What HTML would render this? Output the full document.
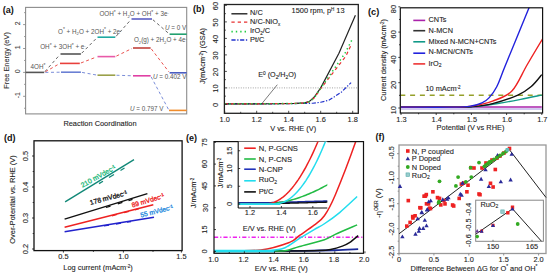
<!DOCTYPE html>
<html><head><meta charset="utf-8"><style>
html,body{margin:0;padding:0;background:#fff;width:550px;height:274px;overflow:hidden}
svg{display:block}
text{font-family:"Liberation Sans", sans-serif}
</style></head><body>
<svg width="550" height="274" viewBox="0 0 550 274" font-family='"Liberation Sans", sans-serif'>
<rect width="550" height="274" fill="#fff"/>
<rect x="25.60" y="7.40" width="161.10" height="106.50" stroke="#8c8c8c" stroke-width="1.1" fill="none"/>
<line x1="23.10" y1="24.60" x2="25.60" y2="24.60" stroke="#8c8c8c" stroke-width="0.9" stroke-linecap="butt"/>
<line x1="23.10" y1="48.50" x2="25.60" y2="48.50" stroke="#8c8c8c" stroke-width="0.9" stroke-linecap="butt"/>
<line x1="23.10" y1="72.40" x2="25.60" y2="72.40" stroke="#8c8c8c" stroke-width="0.9" stroke-linecap="butt"/>
<line x1="23.10" y1="96.30" x2="25.60" y2="96.30" stroke="#8c8c8c" stroke-width="0.9" stroke-linecap="butt"/>
<line x1="24.10" y1="12.65" x2="25.60" y2="12.65" stroke="#8c8c8c" stroke-width="0.9" stroke-linecap="butt"/>
<line x1="24.10" y1="36.55" x2="25.60" y2="36.55" stroke="#8c8c8c" stroke-width="0.9" stroke-linecap="butt"/>
<line x1="24.10" y1="60.45" x2="25.60" y2="60.45" stroke="#8c8c8c" stroke-width="0.9" stroke-linecap="butt"/>
<line x1="24.10" y1="84.35" x2="25.60" y2="84.35" stroke="#8c8c8c" stroke-width="0.9" stroke-linecap="butt"/>
<line x1="24.10" y1="108.25" x2="25.60" y2="108.25" stroke="#8c8c8c" stroke-width="0.9" stroke-linecap="butt"/>
<text x="20.40" y="23.40" font-size="7.0" fill="#444" stroke="#444" stroke-width="0.1" text-anchor="middle" font-weight="normal" transform="rotate(-90 20.40 23.40)" style="">2</text>
<text x="20.40" y="47.30" font-size="7.0" fill="#444" stroke="#444" stroke-width="0.1" text-anchor="middle" font-weight="normal" transform="rotate(-90 20.40 47.30)" style="">1</text>
<text x="20.40" y="71.20" font-size="7.0" fill="#444" stroke="#444" stroke-width="0.1" text-anchor="middle" font-weight="normal" transform="rotate(-90 20.40 71.20)" style="">0</text>
<text x="20.40" y="95.10" font-size="7.0" fill="#444" stroke="#444" stroke-width="0.1" text-anchor="middle" font-weight="normal" transform="rotate(-90 20.40 95.10)" style="">-1</text>
<text x="9.30" y="60.50" font-size="7.4" fill="#333" stroke="#333" stroke-width="0.1" text-anchor="middle" font-weight="normal" transform="rotate(-90 9.30 60.50)" style="">Free Energy (eV)</text>
<text x="100.00" y="125.90" font-size="7.4" fill="#222" stroke="#222" stroke-width="0.1" text-anchor="middle" font-weight="normal" style="">Reaction Coordination</text>
<text x="2.80" y="12.60" font-size="9" fill="#111" text-anchor="start" font-weight="bold" style="">(a)</text>
<line x1="25.60" y1="72.40" x2="44.20" y2="72.40" stroke="#555555" stroke-width="1.6" stroke-linecap="butt"/>
<line x1="60.50" y1="54.00" x2="80.90" y2="54.00" stroke="#555555" stroke-width="1.6" stroke-linecap="butt"/>
<line x1="60.00" y1="63.40" x2="79.80" y2="63.40" stroke="#e8403c" stroke-width="1.6" stroke-linecap="butt"/>
<line x1="61.00" y1="72.20" x2="80.90" y2="72.20" stroke="#6b80d4" stroke-width="1.6" stroke-linecap="butt"/>
<line x1="97.50" y1="37.20" x2="115.30" y2="37.20" stroke="#1fa9a2" stroke-width="1.6" stroke-linecap="butt"/>
<line x1="97.50" y1="56.60" x2="115.30" y2="56.60" stroke="#e85aa8" stroke-width="1.6" stroke-linecap="butt"/>
<line x1="97.50" y1="75.20" x2="115.30" y2="75.20" stroke="#9aa04a" stroke-width="1.6" stroke-linecap="butt"/>
<line x1="131.50" y1="19.00" x2="152.00" y2="19.00" stroke="#5a5ec4" stroke-width="1.6" stroke-linecap="butt"/>
<line x1="133.00" y1="48.00" x2="150.60" y2="48.00" stroke="#c0403a" stroke-width="1.6" stroke-linecap="butt"/>
<line x1="133.00" y1="75.80" x2="150.60" y2="75.80" stroke="#e040a4" stroke-width="1.6" stroke-linecap="butt"/>
<line x1="169.60" y1="34.20" x2="186.70" y2="34.20" stroke="#22a070" stroke-width="1.6" stroke-linecap="butt"/>
<line x1="169.60" y1="72.80" x2="186.70" y2="72.80" stroke="#4a5cc0" stroke-width="1.6" stroke-linecap="butt"/>
<line x1="169.00" y1="110.40" x2="186.70" y2="110.40" stroke="#f08c2c" stroke-width="1.6" stroke-linecap="butt"/>
<line x1="45.00" y1="71.50" x2="59.70" y2="54.90" stroke="#555" stroke-width="0.9" stroke-dasharray="3,2.6" stroke-linecap="butt"/>
<line x1="81.74" y1="53.15" x2="96.66" y2="38.05" stroke="#555" stroke-width="0.9" stroke-dasharray="3,2.6" stroke-linecap="butt"/>
<line x1="116.10" y1="36.30" x2="130.70" y2="19.90" stroke="#555" stroke-width="0.9" stroke-dasharray="3,2.6" stroke-linecap="butt"/>
<line x1="152.91" y1="19.78" x2="168.69" y2="33.42" stroke="#555" stroke-width="0.9" stroke-dasharray="3,2.6" stroke-linecap="butt"/>
<line x1="45.24" y1="71.81" x2="58.96" y2="63.99" stroke="#e8403c" stroke-width="0.9" stroke-dasharray="3,2.6" stroke-linecap="butt"/>
<line x1="80.92" y1="62.97" x2="96.38" y2="57.03" stroke="#e8403c" stroke-width="0.9" stroke-dasharray="3,2.6" stroke-linecap="butt"/>
<line x1="116.38" y1="56.08" x2="131.92" y2="48.52" stroke="#e8403c" stroke-width="0.9" stroke-dasharray="3,2.6" stroke-linecap="butt"/>
<line x1="151.33" y1="48.95" x2="168.87" y2="71.85" stroke="#e8403c" stroke-width="0.9" stroke-dasharray="3,2.6" stroke-linecap="butt"/>
<line x1="45.40" y1="72.39" x2="59.80" y2="72.21" stroke="#6b80d4" stroke-width="0.9" stroke-dasharray="3,2.6" stroke-linecap="butt"/>
<line x1="82.08" y1="72.41" x2="96.32" y2="74.99" stroke="#6b80d4" stroke-width="0.9" stroke-dasharray="3,2.6" stroke-linecap="butt"/>
<line x1="116.50" y1="75.24" x2="131.80" y2="75.76" stroke="#6b80d4" stroke-width="0.9" stroke-dasharray="3,2.6" stroke-linecap="butt"/>
<line x1="151.16" y1="76.86" x2="168.44" y2="109.34" stroke="#6b80d4" stroke-width="0.9" stroke-dasharray="3,2.6" stroke-linecap="butt"/>
<text x="30.60" y="69.00" font-size="6.3" fill="#555" text-anchor="start" font-weight="normal" style="">4OH<tspan dy="-2.2" font-size="5">*</tspan></text>
<text x="40.20" y="48.90" font-size="6.3" fill="#555" text-anchor="start" font-weight="normal" style="">OH<tspan dy="-2.2" font-size="5">*</tspan><tspan dy="2.2"> + 3OH</tspan><tspan dy="-2.2" font-size="5">*</tspan><tspan dy="2.2"> + e</tspan><tspan dy="-2" font-size="4.2">-</tspan></text>
<text x="58.00" y="33.60" font-size="6.3" fill="#555" text-anchor="start" font-weight="normal" style="">O<tspan dy="-2.2" font-size="5">*</tspan><tspan dy="2.2"> + H</tspan><tspan dy="1.6" font-size="4.2">2</tspan><tspan dy="-1.6">O + 2OH</tspan><tspan dy="-2.2" font-size="5">*</tspan><tspan dy="2.2"> + 2e</tspan><tspan dy="-2" font-size="4.2">-</tspan></text>
<text x="99.40" y="16.10" font-size="6.3" fill="#555" text-anchor="start" font-weight="normal" style="">OOH<tspan dy="-2.2" font-size="5">*</tspan><tspan dy="2.2"> + H</tspan><tspan dy="1.6" font-size="4.2">2</tspan><tspan dy="-1.6">O + OH</tspan><tspan dy="-2.2" font-size="5">*</tspan><tspan dy="2.2"> + 3e</tspan><tspan dy="-2" font-size="4.2">-</tspan></text>
<text x="165.00" y="29.90" font-size="6.3" fill="#555" text-anchor="start" font-weight="normal" style=""><tspan font-style="italic">U</tspan> = 0 V</text>
<text x="133.90" y="42.40" font-size="6.3" fill="#555" text-anchor="start" font-weight="normal" style="">O<tspan dy="1.6" font-size="4.2">2</tspan><tspan dy="-1.6">(g) + 2H</tspan><tspan dy="1.6" font-size="4.2">2</tspan><tspan dy="-1.6">O + 4e</tspan><tspan dy="-2" font-size="4.2">-</tspan></text>
<text x="152.90" y="78.70" font-size="6.3" fill="#555" text-anchor="start" font-weight="normal" style=""><tspan font-style="italic">U</tspan> = 0.402 V</text>
<text x="130.00" y="111.00" font-size="6.3" fill="#555" text-anchor="start" font-weight="normal" style=""><tspan font-style="italic">U</tspan> = 0.797 V</text>
<line x1="226.40" y1="87.90" x2="357.30" y2="87.90" stroke="#999" stroke-width="0.9" stroke-dasharray="1,1.4" stroke-linecap="butt"/>
<polyline points="224.70,103.91 256.70,103.91 280.70,103.74 312.70,103.25 320.70,102.26 328.70,100.28 333.98,96.98 341.50,92.03 351.10,82.62" fill="none" stroke="#2233cc" stroke-width="1.2" stroke-dasharray="4.2,1.6,1.3,1.6" stroke-linejoin="round"/>
<polyline points="224.70,103.91 272.70,103.74 296.70,103.41 304.70,102.92 309.50,101.43 314.30,96.98 320.70,87.90 338.94,53.25 355.42,15.30" fill="none" stroke="#222" stroke-width="1.2" stroke-linejoin="round"/>
<polyline points="224.70,103.91 272.70,103.74 296.70,103.41 304.70,102.92 309.50,101.76 314.30,97.80 320.70,88.73 345.98,56.06 351.10,44.84" fill="none" stroke="#e83030" stroke-width="1.2" stroke-dasharray="3.3,3" stroke-linejoin="round"/>
<polyline points="224.70,103.91 272.70,103.74 296.70,103.41 304.70,102.92 309.50,101.76 314.30,97.80 320.70,88.23 345.02,53.25 352.70,38.40" fill="none" stroke="#22cc44" stroke-width="1.5" stroke-dasharray="1.4,3" stroke-linejoin="round"/>
<line x1="277.30" y1="84.70" x2="261.90" y2="103.60" stroke="#222" stroke-width="0.6" stroke-linecap="butt"/>
<text x="258.20" y="77.20" font-size="7.2" fill="#222" stroke="#222" stroke-width="0.1" text-anchor="start" font-weight="normal" style="">E<tspan dy="-2.3" font-size="4.8">0</tspan><tspan dy="2.3"> (O</tspan><tspan dy="1.7" font-size="4.8">2</tspan><tspan dy="-1.7">/H</tspan><tspan dy="1.7" font-size="4.8">2</tspan><tspan dy="-1.7">O)</tspan></text>
<rect x="224.40" y="4.50" width="133.90" height="108.80" stroke="#222" stroke-width="1.3" fill="none"/>
<line x1="224.70" y1="113.30" x2="224.70" y2="110.80" stroke="#222" stroke-width="0.8" stroke-linecap="butt"/>
<text x="224.70" y="121.90" font-size="7.4" fill="#222" stroke="#222" stroke-width="0.1" text-anchor="middle" font-weight="normal" style="">1.0</text>
<line x1="256.70" y1="113.30" x2="256.70" y2="110.80" stroke="#222" stroke-width="0.8" stroke-linecap="butt"/>
<text x="256.70" y="121.90" font-size="7.4" fill="#222" stroke="#222" stroke-width="0.1" text-anchor="middle" font-weight="normal" style="">1.2</text>
<line x1="288.70" y1="113.30" x2="288.70" y2="110.80" stroke="#222" stroke-width="0.8" stroke-linecap="butt"/>
<text x="288.70" y="121.90" font-size="7.4" fill="#222" stroke="#222" stroke-width="0.1" text-anchor="middle" font-weight="normal" style="">1.4</text>
<line x1="320.70" y1="113.30" x2="320.70" y2="110.80" stroke="#222" stroke-width="0.8" stroke-linecap="butt"/>
<text x="320.70" y="121.90" font-size="7.4" fill="#222" stroke="#222" stroke-width="0.1" text-anchor="middle" font-weight="normal" style="">1.6</text>
<line x1="352.70" y1="113.30" x2="352.70" y2="110.80" stroke="#222" stroke-width="0.8" stroke-linecap="butt"/>
<text x="352.70" y="121.90" font-size="7.4" fill="#222" stroke="#222" stroke-width="0.1" text-anchor="middle" font-weight="normal" style="">1.8</text>
<line x1="240.70" y1="113.30" x2="240.70" y2="111.80" stroke="#222" stroke-width="0.8" stroke-linecap="butt"/>
<line x1="272.70" y1="113.30" x2="272.70" y2="111.80" stroke="#222" stroke-width="0.8" stroke-linecap="butt"/>
<line x1="304.70" y1="113.30" x2="304.70" y2="111.80" stroke="#222" stroke-width="0.8" stroke-linecap="butt"/>
<line x1="336.70" y1="113.30" x2="336.70" y2="111.80" stroke="#222" stroke-width="0.8" stroke-linecap="butt"/>
<line x1="224.40" y1="96.15" x2="225.90" y2="96.15" stroke="#222" stroke-width="0.8" stroke-linecap="butt"/>
<line x1="224.40" y1="79.65" x2="225.90" y2="79.65" stroke="#222" stroke-width="0.8" stroke-linecap="butt"/>
<line x1="224.40" y1="63.15" x2="225.90" y2="63.15" stroke="#222" stroke-width="0.8" stroke-linecap="butt"/>
<line x1="224.40" y1="46.65" x2="225.90" y2="46.65" stroke="#222" stroke-width="0.8" stroke-linecap="butt"/>
<line x1="224.40" y1="30.15" x2="225.90" y2="30.15" stroke="#222" stroke-width="0.8" stroke-linecap="butt"/>
<line x1="224.40" y1="13.65" x2="225.90" y2="13.65" stroke="#222" stroke-width="0.8" stroke-linecap="butt"/>
<line x1="224.40" y1="104.40" x2="226.90" y2="104.40" stroke="#222" stroke-width="0.8" stroke-linecap="butt"/>
<text x="218.00" y="105.00" font-size="7.4" fill="#222" stroke="#222" stroke-width="0.1" text-anchor="middle" font-weight="normal" transform="rotate(-90 218.00 105.00)" style="">0</text>
<line x1="224.40" y1="87.90" x2="226.90" y2="87.90" stroke="#222" stroke-width="0.8" stroke-linecap="butt"/>
<text x="218.00" y="88.50" font-size="7.4" fill="#222" stroke="#222" stroke-width="0.1" text-anchor="middle" font-weight="normal" transform="rotate(-90 218.00 88.50)" style="">10</text>
<line x1="224.40" y1="71.40" x2="226.90" y2="71.40" stroke="#222" stroke-width="0.8" stroke-linecap="butt"/>
<text x="218.00" y="72.00" font-size="7.4" fill="#222" stroke="#222" stroke-width="0.1" text-anchor="middle" font-weight="normal" transform="rotate(-90 218.00 72.00)" style="">20</text>
<line x1="224.40" y1="54.90" x2="226.90" y2="54.90" stroke="#222" stroke-width="0.8" stroke-linecap="butt"/>
<text x="218.00" y="55.50" font-size="7.4" fill="#222" stroke="#222" stroke-width="0.1" text-anchor="middle" font-weight="normal" transform="rotate(-90 218.00 55.50)" style="">30</text>
<line x1="224.40" y1="38.40" x2="226.90" y2="38.40" stroke="#222" stroke-width="0.8" stroke-linecap="butt"/>
<text x="218.00" y="39.00" font-size="7.4" fill="#222" stroke="#222" stroke-width="0.1" text-anchor="middle" font-weight="normal" transform="rotate(-90 218.00 39.00)" style="">40</text>
<line x1="224.40" y1="21.90" x2="226.90" y2="21.90" stroke="#222" stroke-width="0.8" stroke-linecap="butt"/>
<text x="218.00" y="22.50" font-size="7.4" fill="#222" stroke="#222" stroke-width="0.1" text-anchor="middle" font-weight="normal" transform="rotate(-90 218.00 22.50)" style="">50</text>
<line x1="224.40" y1="5.40" x2="226.90" y2="5.40" stroke="#222" stroke-width="0.8" stroke-linecap="butt"/>
<text x="218.00" y="6.00" font-size="7.4" fill="#222" stroke="#222" stroke-width="0.1" text-anchor="middle" font-weight="normal" transform="rotate(-90 218.00 6.00)" style="">60</text>
<text x="293.20" y="130.60" font-size="7.4" fill="#222" stroke="#222" stroke-width="0.1" text-anchor="middle" font-weight="normal" style="">V vs. RHE (V)</text>
<text x="205.30" y="56.00" font-size="7.4" fill="#222" stroke="#222" stroke-width="0.1" text-anchor="middle" font-weight="normal" transform="rotate(-90 205.30 56.00)" style="">J(mAcm<tspan dy="-2" font-size="4.5">-2</tspan><tspan dy="2">) (GSA)</tspan></text>
<text x="193.00" y="12.20" font-size="9" fill="#111" text-anchor="start" font-weight="bold" style="">(b)</text>
<line x1="231.40" y1="13.80" x2="247.40" y2="13.80" stroke="#222" stroke-width="1.4" stroke-linecap="butt"/>
<text x="250.00" y="15.00" font-size="7.4" fill="#222" stroke="#222" stroke-width="0.1" text-anchor="start" font-weight="normal" style="">N/C</text>
<line x1="231.40" y1="22.10" x2="247.40" y2="22.10" stroke="#e83030" stroke-width="1.4" stroke-dasharray="3.3,3" stroke-linecap="butt"/>
<text x="250.00" y="24.00" font-size="7.4" fill="#222" stroke="#222" stroke-width="0.1" text-anchor="start" font-weight="normal" style="">N/C-NiO<tspan dy="1.5" font-size="4.5">x</tspan></text>
<line x1="231.40" y1="31.60" x2="247.40" y2="31.60" stroke="#22cc44" stroke-width="1.6" stroke-dasharray="1.4,3" stroke-linecap="butt"/>
<text x="250.00" y="33.10" font-size="7.4" fill="#222" stroke="#222" stroke-width="0.1" text-anchor="start" font-weight="normal" style="">IrO<tspan dy="1.5" font-size="4.5">2</tspan><tspan dy="-1.5">/C</tspan></text>
<line x1="231.40" y1="40.00" x2="247.40" y2="40.00" stroke="#2233cc" stroke-width="1.4" stroke-dasharray="4.2,1.6,1.3,1.6" stroke-linecap="butt"/>
<text x="250.00" y="42.00" font-size="7.4" fill="#222" stroke="#222" stroke-width="0.1" text-anchor="start" font-weight="normal" style="">Pt/C</text>
<text x="291.60" y="12.70" font-size="7.4" fill="#222" stroke="#222" stroke-width="0.1" text-anchor="start" font-weight="normal" style="">1500 rpm, p<tspan dy="-2" font-size="4.5">H</tspan><tspan dy="2"> 13</tspan></text>
<clipPath id="cc"><rect x="400.3" y="7.8" width="142.3" height="105.2"/></clipPath>
<line x1="400.30" y1="95.20" x2="542.60" y2="95.20" stroke="#95a02a" stroke-width="1.6" stroke-dasharray="5,4.8" stroke-linecap="butt"/>
<g clip-path="url(#cc)">
<line x1="400.30" y1="109.00" x2="542.60" y2="109.00" stroke="#9a88dd" stroke-width="0.9" stroke-linecap="butt"/>
<path d="M401.00,106.99 C424.47,106.99 518.33,106.99 541.80,106.99" fill="none" stroke="#aa22aa" stroke-width="1.5" stroke-linejoin="round"/>
<path d="M401.00,107.24 C409.80,107.24 442.07,107.30 453.80,107.24 C465.53,107.18 464.07,107.49 471.40,106.86 C478.73,106.23 489.59,104.69 497.80,103.45 C506.01,102.20 513.35,100.79 520.68,99.40 C528.01,98.01 538.28,95.81 541.80,95.10" fill="none" stroke="#119988" stroke-width="1.4" stroke-linejoin="round"/>
<path d="M401.00,107.24 C409.80,107.24 442.07,107.33 453.80,107.24 C465.53,107.16 464.95,107.35 471.40,106.73 C477.85,106.12 484.78,105.51 492.52,103.57 C500.26,101.63 511.41,97.94 517.86,95.10 C524.32,92.25 527.25,89.91 531.24,86.50 C535.23,83.08 540.04,76.59 541.80,74.60" fill="none" stroke="#111" stroke-width="1.4" stroke-linejoin="round"/>
<path d="M401.00,107.24 C409.80,107.24 442.07,107.43 453.80,107.24 C465.53,107.05 464.95,107.14 471.40,106.10 C477.85,105.07 485.77,103.55 492.52,101.04 C499.27,98.53 506.13,97.06 511.88,91.05 C517.63,85.04 521.91,73.66 527.02,64.99 C532.12,56.32 538.87,44.96 542.50,39.06 C546.14,33.15 547.78,31.15 548.84,29.57" fill="none" stroke="#ee2222" stroke-width="1.4" stroke-linejoin="round"/>
<path d="M401.00,107.11 C409.80,107.11 442.07,107.30 453.80,107.11 C465.53,106.92 466.71,106.67 471.40,105.98 C476.09,105.28 479.03,104.29 481.96,102.94 C484.89,101.59 486.54,100.58 489.00,97.88 C491.46,95.18 493.99,92.23 496.74,86.75 C499.50,81.27 500.15,78.19 505.54,64.99 C510.94,51.79 524.26,19.37 529.13,7.56 C534.00,-4.25 533.82,-3.62 534.76,-5.85" fill="none" stroke="#2222dd" stroke-width="1.4" stroke-linejoin="round"/>
</g>
<rect x="400.30" y="7.80" width="142.30" height="105.20" stroke="#111" stroke-width="1.2" fill="none"/>
<line x1="401.00" y1="113.00" x2="401.00" y2="115.00" stroke="#111" stroke-width="0.8" stroke-linecap="butt"/>
<text x="401.50" y="122.40" font-size="7.4" fill="#222" stroke="#222" stroke-width="0.1" text-anchor="middle" font-weight="normal" style="">1.3</text>
<line x1="436.20" y1="113.00" x2="436.20" y2="115.00" stroke="#111" stroke-width="0.8" stroke-linecap="butt"/>
<text x="436.70" y="122.40" font-size="7.4" fill="#222" stroke="#222" stroke-width="0.1" text-anchor="middle" font-weight="normal" style="">1.4</text>
<line x1="471.40" y1="113.00" x2="471.40" y2="115.00" stroke="#111" stroke-width="0.8" stroke-linecap="butt"/>
<text x="471.90" y="122.40" font-size="7.4" fill="#222" stroke="#222" stroke-width="0.1" text-anchor="middle" font-weight="normal" style="">1.5</text>
<line x1="506.60" y1="113.00" x2="506.60" y2="115.00" stroke="#111" stroke-width="0.8" stroke-linecap="butt"/>
<text x="507.10" y="122.40" font-size="7.4" fill="#222" stroke="#222" stroke-width="0.1" text-anchor="middle" font-weight="normal" style="">1.6</text>
<line x1="541.80" y1="113.00" x2="541.80" y2="115.00" stroke="#111" stroke-width="0.8" stroke-linecap="butt"/>
<text x="542.30" y="122.40" font-size="7.4" fill="#222" stroke="#222" stroke-width="0.1" text-anchor="middle" font-weight="normal" style="">1.7</text>
<line x1="418.60" y1="113.00" x2="418.60" y2="114.30" stroke="#111" stroke-width="0.8" stroke-linecap="butt"/>
<line x1="453.80" y1="113.00" x2="453.80" y2="114.30" stroke="#111" stroke-width="0.8" stroke-linecap="butt"/>
<line x1="489.00" y1="113.00" x2="489.00" y2="114.30" stroke="#111" stroke-width="0.8" stroke-linecap="butt"/>
<line x1="524.20" y1="113.00" x2="524.20" y2="114.30" stroke="#111" stroke-width="0.8" stroke-linecap="butt"/>
<line x1="398.30" y1="6.80" x2="400.30" y2="6.80" stroke="#111" stroke-width="0.8" stroke-linecap="butt"/>
<text x="396.00" y="9.00" font-size="7.4" fill="#222" stroke="#222" stroke-width="0.1" text-anchor="middle" font-weight="normal" transform="rotate(-90 396.00 9.00)" style="">80</text>
<line x1="398.30" y1="32.10" x2="400.30" y2="32.10" stroke="#111" stroke-width="0.8" stroke-linecap="butt"/>
<text x="396.00" y="34.30" font-size="7.4" fill="#222" stroke="#222" stroke-width="0.1" text-anchor="middle" font-weight="normal" transform="rotate(-90 396.00 34.30)" style="">60</text>
<line x1="398.30" y1="57.40" x2="400.30" y2="57.40" stroke="#111" stroke-width="0.8" stroke-linecap="butt"/>
<text x="396.00" y="59.60" font-size="7.4" fill="#222" stroke="#222" stroke-width="0.1" text-anchor="middle" font-weight="normal" transform="rotate(-90 396.00 59.60)" style="">40</text>
<line x1="398.30" y1="82.70" x2="400.30" y2="82.70" stroke="#111" stroke-width="0.8" stroke-linecap="butt"/>
<text x="396.00" y="84.90" font-size="7.4" fill="#222" stroke="#222" stroke-width="0.1" text-anchor="middle" font-weight="normal" transform="rotate(-90 396.00 84.90)" style="">20</text>
<line x1="398.30" y1="108.00" x2="400.30" y2="108.00" stroke="#111" stroke-width="0.8" stroke-linecap="butt"/>
<text x="396.00" y="110.20" font-size="7.4" fill="#222" stroke="#222" stroke-width="0.1" text-anchor="middle" font-weight="normal" transform="rotate(-90 396.00 110.20)" style="">10</text>
<line x1="399.00" y1="19.45" x2="400.30" y2="19.45" stroke="#111" stroke-width="0.8" stroke-linecap="butt"/>
<line x1="399.00" y1="44.75" x2="400.30" y2="44.75" stroke="#111" stroke-width="0.8" stroke-linecap="butt"/>
<line x1="399.00" y1="70.05" x2="400.30" y2="70.05" stroke="#111" stroke-width="0.8" stroke-linecap="butt"/>
<line x1="399.00" y1="95.35" x2="400.30" y2="95.35" stroke="#111" stroke-width="0.8" stroke-linecap="butt"/>
<text x="470.50" y="130.00" font-size="7.4" fill="#222" stroke="#222" stroke-width="0.1" text-anchor="middle" font-weight="normal" style="">Potential (V vs RHE)</text>
<text x="386.00" y="60.00" font-size="7.4" fill="#222" stroke="#222" stroke-width="0.1" text-anchor="middle" font-weight="normal" transform="rotate(-90 386.00 60.00)" style="">Current density (mAcm<tspan dy="-2" font-size="4.5">-2</tspan><tspan dy="2">)</tspan></text>
<text x="368.00" y="15.20" font-size="9.2" fill="#111" text-anchor="start" font-weight="bold" style="">(c)</text>
<text x="425.40" y="90.60" font-size="7.4" fill="#222" stroke="#222" stroke-width="0.1" text-anchor="start" font-weight="normal" style="">10 mAcm<tspan dy="-2" font-size="4.5">-2</tspan></text>
<line x1="413.30" y1="20.40" x2="425.20" y2="20.40" stroke="#aa22aa" stroke-width="1.6" stroke-linecap="butt"/>
<text x="428.60" y="21.60" font-size="7.3" fill="#222" stroke="#222" stroke-width="0.1" text-anchor="start" font-weight="normal" style="">CNTs</text>
<line x1="413.30" y1="30.70" x2="425.20" y2="30.70" stroke="#333" stroke-width="1.6" stroke-linecap="butt"/>
<text x="428.60" y="33.00" font-size="7.3" fill="#222" stroke="#222" stroke-width="0.1" text-anchor="start" font-weight="normal" style="">N-MCN</text>
<line x1="413.30" y1="41.80" x2="425.20" y2="41.80" stroke="#119988" stroke-width="1.6" stroke-linecap="butt"/>
<text x="428.60" y="44.20" font-size="7.3" fill="#222" stroke="#222" stroke-width="0.1" text-anchor="start" font-weight="normal" style="">Mixed N-MCN+CNTs</text>
<line x1="413.30" y1="53.20" x2="425.20" y2="53.20" stroke="#2222dd" stroke-width="1.6" stroke-linecap="butt"/>
<text x="428.60" y="54.40" font-size="7.3" fill="#222" stroke="#222" stroke-width="0.1" text-anchor="start" font-weight="normal" style="">N-MCN/CNTs</text>
<line x1="413.30" y1="63.90" x2="425.20" y2="63.90" stroke="#ee3333" stroke-width="1.6" stroke-linecap="butt"/>
<text x="428.60" y="65.60" font-size="7.3" fill="#222" stroke="#222" stroke-width="0.1" text-anchor="start" font-weight="normal" style="">IrO<tspan dy="1.5" font-size="5">2</tspan></text>
<rect x="34.00" y="140.80" width="148.10" height="109.80" stroke="#111" stroke-width="1.3" fill="none"/>
<line x1="63.40" y1="250.60" x2="63.40" y2="252.60" stroke="#111" stroke-width="0.8" stroke-linecap="butt"/>
<text x="63.40" y="258.80" font-size="7.4" fill="#222" stroke="#222" stroke-width="0.1" text-anchor="middle" font-weight="normal" style="">0.5</text>
<line x1="123.40" y1="250.60" x2="123.40" y2="252.60" stroke="#111" stroke-width="0.8" stroke-linecap="butt"/>
<text x="123.40" y="258.80" font-size="7.4" fill="#222" stroke="#222" stroke-width="0.1" text-anchor="middle" font-weight="normal" style="">1.0</text>
<line x1="181.40" y1="250.60" x2="181.40" y2="252.60" stroke="#111" stroke-width="0.8" stroke-linecap="butt"/>
<text x="181.40" y="258.80" font-size="7.4" fill="#222" stroke="#222" stroke-width="0.1" text-anchor="middle" font-weight="normal" style="">1.5</text>
<line x1="93.40" y1="250.60" x2="93.40" y2="251.90" stroke="#111" stroke-width="0.8" stroke-linecap="butt"/>
<line x1="153.00" y1="250.60" x2="153.00" y2="251.90" stroke="#111" stroke-width="0.8" stroke-linecap="butt"/>
<line x1="32.00" y1="156.00" x2="34.00" y2="156.00" stroke="#111" stroke-width="0.8" stroke-linecap="butt"/>
<text x="27.50" y="156.00" font-size="7.4" fill="#222" stroke="#222" stroke-width="0.1" text-anchor="middle" font-weight="normal" transform="rotate(-90 27.50 156.00)" style="">0.5</text>
<line x1="32.00" y1="187.00" x2="34.00" y2="187.00" stroke="#111" stroke-width="0.8" stroke-linecap="butt"/>
<text x="27.50" y="187.00" font-size="7.4" fill="#222" stroke="#222" stroke-width="0.1" text-anchor="middle" font-weight="normal" transform="rotate(-90 27.50 187.00)" style="">0.4</text>
<line x1="32.00" y1="218.00" x2="34.00" y2="218.00" stroke="#111" stroke-width="0.8" stroke-linecap="butt"/>
<text x="27.50" y="218.00" font-size="7.4" fill="#222" stroke="#222" stroke-width="0.1" text-anchor="middle" font-weight="normal" transform="rotate(-90 27.50 218.00)" style="">0.3</text>
<line x1="32.00" y1="249.00" x2="34.00" y2="249.00" stroke="#111" stroke-width="0.8" stroke-linecap="butt"/>
<text x="27.50" y="249.00" font-size="7.4" fill="#222" stroke="#222" stroke-width="0.1" text-anchor="middle" font-weight="normal" transform="rotate(-90 27.50 249.00)" style="">0.2</text>
<line x1="32.70" y1="171.50" x2="34.00" y2="171.50" stroke="#111" stroke-width="0.8" stroke-linecap="butt"/>
<line x1="32.70" y1="202.50" x2="34.00" y2="202.50" stroke="#111" stroke-width="0.8" stroke-linecap="butt"/>
<line x1="32.70" y1="233.50" x2="34.00" y2="233.50" stroke="#111" stroke-width="0.8" stroke-linecap="butt"/>
<text x="98.00" y="269.80" font-size="7.4" fill="#222" stroke="#222" stroke-width="0.1" text-anchor="middle" font-weight="normal" style="">Log current (mAcm<tspan dy="-2" font-size="4.5">-2</tspan><tspan dy="2">)</tspan></text>
<text x="15.30" y="199.50" font-size="7.4" fill="#222" stroke="#222" stroke-width="0.1" text-anchor="middle" font-weight="normal" transform="rotate(-90 15.30 199.50)" style="">Over-Potential vs. RHE (V)</text>
<text x="4.00" y="141.20" font-size="9" fill="#111" text-anchor="start" font-weight="bold" style="">(d)</text>
<line x1="65.10" y1="201.80" x2="134.00" y2="159.60" stroke="#118877" stroke-width="1.4" stroke-linecap="butt"/>
<line x1="64.60" y1="219.20" x2="147.40" y2="193.60" stroke="#111" stroke-width="1.4" stroke-linecap="butt"/>
<line x1="64.60" y1="227.20" x2="153.30" y2="204.80" stroke="#ee2222" stroke-width="1.4" stroke-linecap="butt"/>
<line x1="64.60" y1="231.80" x2="154.00" y2="217.30" stroke="#2222cc" stroke-width="1.4" stroke-linecap="butt"/>
<line x1="99.00" y1="183.64" x2="103.00" y2="181.19" stroke="#118877" stroke-width="1.3" stroke-linecap="butt"/>
<line x1="109.00" y1="177.51" x2="114.00" y2="174.45" stroke="#118877" stroke-width="1.3" stroke-linecap="butt"/>
<line x1="120.50" y1="170.47" x2="124.50" y2="168.02" stroke="#118877" stroke-width="1.3" stroke-linecap="butt"/>
<line x1="106.00" y1="207.50" x2="110.50" y2="206.11" stroke="#111" stroke-width="1.3" stroke-linecap="butt"/>
<line x1="117.80" y1="203.85" x2="122.40" y2="202.43" stroke="#111" stroke-width="1.3" stroke-linecap="butt"/>
<line x1="128.50" y1="200.54" x2="132.50" y2="199.31" stroke="#111" stroke-width="1.3" stroke-linecap="butt"/>
<line x1="112.00" y1="215.76" x2="117.00" y2="214.45" stroke="#ee2222" stroke-width="1.3" stroke-linecap="butt"/>
<line x1="124.00" y1="212.63" x2="129.00" y2="211.33" stroke="#ee2222" stroke-width="1.3" stroke-linecap="butt"/>
<line x1="135.00" y1="209.77" x2="139.00" y2="208.72" stroke="#ee2222" stroke-width="1.3" stroke-linecap="butt"/>
<line x1="104.00" y1="225.98" x2="109.00" y2="225.15" stroke="#2222cc" stroke-width="1.3" stroke-linecap="butt"/>
<line x1="116.00" y1="223.99" x2="121.00" y2="223.16" stroke="#2222cc" stroke-width="1.3" stroke-linecap="butt"/>
<line x1="127.00" y1="222.17" x2="131.00" y2="221.51" stroke="#2222cc" stroke-width="1.3" stroke-linecap="butt"/>
<text x="82.50" y="187.80" font-size="6.9" fill="#1db87a" stroke="#1db87a" stroke-width="0.3" text-anchor="start" font-weight="normal" transform="rotate(-29 82.50 187.80)" style="">210 mVdec<tspan dy="-2" font-size="4.5">-1</tspan></text>
<text x="90.60" y="205.00" font-size="6.8" fill="#111" stroke="#111" stroke-width="0.3" text-anchor="start" font-weight="normal" transform="rotate(-15 90.60 205.00)" style="">178 mVdec<tspan dy="-2" font-size="4.5">-1</tspan></text>
<text x="132.50" y="207.60" font-size="6.6" fill="#ee2222" stroke="#ee2222" stroke-width="0.3" text-anchor="start" font-weight="normal" transform="rotate(-17 132.50 207.60)" style="">89 mVdec<tspan dy="-2" font-size="4.4">-1</tspan></text>
<text x="141.00" y="217.40" font-size="6.6" fill="#2288dd" stroke="#2288dd" stroke-width="0.3" text-anchor="start" font-weight="normal" transform="rotate(-14 141.00 217.40)" style="">55 mVdec<tspan dy="-2" font-size="4.4">-1</tspan></text>
<clipPath id="ce"><rect x="214.0" y="141.6" width="149.5" height="111.70000000000002"/></clipPath>
<line x1="214.00" y1="237.30" x2="363.50" y2="237.30" stroke="#ee22ee" stroke-width="1.4" stroke-dasharray="4.2,2,1.2,2" stroke-linecap="butt"/>
<g clip-path="url(#ce)">
<path d="M214.20,250.96 C221.74,250.96 244.35,250.99 259.43,250.96 C274.50,250.94 292.09,250.94 304.65,250.82 C317.21,250.70 325.88,250.50 334.80,250.24 C343.72,249.97 354.27,249.39 358.17,249.22" fill="none" stroke="#1a2a9a" stroke-width="1.8" stroke-linejoin="round"/>
<path d="M214.20,251.11 C226.76,251.08 271.99,251.06 289.57,250.96 C307.16,250.87 312.89,250.77 319.72,250.53 C326.56,250.28 326.81,250.24 330.58,249.51 C334.35,248.78 339.12,247.35 342.34,246.16 C345.55,244.97 347.24,244.13 349.88,242.38 C352.51,240.63 356.78,236.80 358.17,235.69" fill="none" stroke="#111" stroke-width="1.5" stroke-linejoin="round"/>
<path d="M214.20,250.96 C222.99,250.96 255.15,251.01 266.96,250.96 C278.77,250.92 279.63,251.42 285.05,250.67 C290.48,249.92 292.97,248.27 299.52,246.45 C306.08,244.63 318.44,241.77 324.40,239.76 C330.35,237.75 329.80,236.85 335.25,234.38 C340.70,231.90 353.47,226.50 357.11,224.92" fill="none" stroke="#22bb44" stroke-width="1.5" stroke-linejoin="round"/>
<path d="M214.20,250.96 C221.96,250.79 248.22,251.38 260.78,249.94 C273.34,248.51 283.12,244.80 289.57,242.38 C296.03,239.95 295.43,238.26 299.52,235.40 C303.62,232.53 310.00,228.48 314.15,225.21 C318.29,221.94 320.88,220.80 324.40,215.75 C327.92,210.71 330.03,207.31 335.25,194.95 C340.48,182.58 351.81,152.75 355.75,141.55 C359.70,130.34 358.39,130.03 358.92,127.72" fill="none" stroke="#ee2222" stroke-width="1.5" stroke-linejoin="round"/>
<path d="M214.20,250.53 C221.74,250.53 249.38,250.62 259.43,250.53 C269.48,250.43 270.23,250.41 274.50,249.94 C278.77,249.48 280.88,249.68 285.05,247.76 C289.22,245.85 294.68,241.48 299.52,238.45 C304.37,235.42 310.00,232.02 314.15,229.57 C318.29,227.13 320.15,226.59 324.40,223.75 C328.64,220.92 334.17,217.09 339.62,212.55 C345.08,208.02 354.20,199.21 357.11,196.55" fill="none" stroke="#22ddee" stroke-width="1.5" stroke-linejoin="round"/>
<line x1="214.00" y1="251.40" x2="275.00" y2="251.40" stroke="#22ddee" stroke-width="2.0" stroke-linecap="butt"/>
</g>
<rect x="214.00" y="141.60" width="149.50" height="111.70" stroke="#111" stroke-width="1.2" fill="none"/>
<line x1="214.20" y1="253.30" x2="214.20" y2="251.30" stroke="#111" stroke-width="0.8" stroke-linecap="butt"/>
<text x="213.40" y="262.00" font-size="7.4" fill="#222" stroke="#222" stroke-width="0.1" text-anchor="middle" font-weight="normal" style="">1.0</text>
<line x1="244.35" y1="253.30" x2="244.35" y2="251.30" stroke="#111" stroke-width="0.8" stroke-linecap="butt"/>
<text x="243.55" y="262.00" font-size="7.4" fill="#222" stroke="#222" stroke-width="0.1" text-anchor="middle" font-weight="normal" style="">1.2</text>
<line x1="274.50" y1="253.30" x2="274.50" y2="251.30" stroke="#111" stroke-width="0.8" stroke-linecap="butt"/>
<text x="273.70" y="262.00" font-size="7.4" fill="#222" stroke="#222" stroke-width="0.1" text-anchor="middle" font-weight="normal" style="">1.4</text>
<line x1="304.65" y1="253.30" x2="304.65" y2="251.30" stroke="#111" stroke-width="0.8" stroke-linecap="butt"/>
<text x="303.85" y="262.00" font-size="7.4" fill="#222" stroke="#222" stroke-width="0.1" text-anchor="middle" font-weight="normal" style="">1.6</text>
<line x1="334.80" y1="253.30" x2="334.80" y2="251.30" stroke="#111" stroke-width="0.8" stroke-linecap="butt"/>
<text x="334.00" y="262.00" font-size="7.4" fill="#222" stroke="#222" stroke-width="0.1" text-anchor="middle" font-weight="normal" style="">1.8</text>
<line x1="364.95" y1="253.30" x2="364.95" y2="251.30" stroke="#111" stroke-width="0.8" stroke-linecap="butt"/>
<text x="364.15" y="262.00" font-size="7.4" fill="#222" stroke="#222" stroke-width="0.1" text-anchor="middle" font-weight="normal" style="">2.0</text>
<line x1="229.28" y1="253.30" x2="229.28" y2="252.00" stroke="#111" stroke-width="0.8" stroke-linecap="butt"/>
<line x1="259.43" y1="253.30" x2="259.43" y2="252.00" stroke="#111" stroke-width="0.8" stroke-linecap="butt"/>
<line x1="289.57" y1="253.30" x2="289.57" y2="252.00" stroke="#111" stroke-width="0.8" stroke-linecap="butt"/>
<line x1="319.72" y1="253.30" x2="319.72" y2="252.00" stroke="#111" stroke-width="0.8" stroke-linecap="butt"/>
<line x1="349.88" y1="253.30" x2="349.88" y2="252.00" stroke="#111" stroke-width="0.8" stroke-linecap="butt"/>
<line x1="214.00" y1="251.40" x2="216.00" y2="251.40" stroke="#111" stroke-width="0.8" stroke-linecap="butt"/>
<text x="207.50" y="251.40" font-size="7.4" fill="#222" stroke="#222" stroke-width="0.1" text-anchor="middle" font-weight="normal" transform="rotate(-90 207.50 251.40)" style="">0</text>
<line x1="214.00" y1="229.57" x2="216.00" y2="229.57" stroke="#111" stroke-width="0.8" stroke-linecap="butt"/>
<text x="207.50" y="229.57" font-size="7.4" fill="#222" stroke="#222" stroke-width="0.1" text-anchor="middle" font-weight="normal" transform="rotate(-90 207.50 229.57)" style="">15</text>
<line x1="214.00" y1="207.75" x2="216.00" y2="207.75" stroke="#111" stroke-width="0.8" stroke-linecap="butt"/>
<text x="207.50" y="207.75" font-size="7.4" fill="#222" stroke="#222" stroke-width="0.1" text-anchor="middle" font-weight="normal" transform="rotate(-90 207.50 207.75)" style="">30</text>
<line x1="214.00" y1="185.93" x2="216.00" y2="185.93" stroke="#111" stroke-width="0.8" stroke-linecap="butt"/>
<text x="207.50" y="185.93" font-size="7.4" fill="#222" stroke="#222" stroke-width="0.1" text-anchor="middle" font-weight="normal" transform="rotate(-90 207.50 185.93)" style="">45</text>
<line x1="214.00" y1="164.10" x2="216.00" y2="164.10" stroke="#111" stroke-width="0.8" stroke-linecap="butt"/>
<text x="207.50" y="164.10" font-size="7.4" fill="#222" stroke="#222" stroke-width="0.1" text-anchor="middle" font-weight="normal" transform="rotate(-90 207.50 164.10)" style="">60</text>
<line x1="214.00" y1="142.28" x2="216.00" y2="142.28" stroke="#111" stroke-width="0.8" stroke-linecap="butt"/>
<text x="207.50" y="142.28" font-size="7.4" fill="#222" stroke="#222" stroke-width="0.1" text-anchor="middle" font-weight="normal" transform="rotate(-90 207.50 142.28)" style="">75</text>
<text x="281.30" y="271.00" font-size="7.4" fill="#222" stroke="#222" stroke-width="0.1" text-anchor="middle" font-weight="normal" style="">E/V vs. RHE (V)</text>
<text x="195.50" y="193.00" font-size="7.4" fill="#222" stroke="#222" stroke-width="0.1" text-anchor="middle" font-weight="normal" transform="rotate(-90 195.50 193.00)" style="">J/mAcm<tspan dy="-2" font-size="4.5">-2</tspan></text>
<text x="186.00" y="140.80" font-size="9" fill="#111" text-anchor="start" font-weight="bold" style="">(e)</text>
<text x="242.80" y="230.60" font-size="7.4" fill="#222" stroke="#222" stroke-width="0.1" text-anchor="start" font-weight="normal" style="">E/V vs. RHE (V)</text>
<rect x="238.2" y="141.6" width="89.10000000000002" height="66.4" fill="#fff"/>
<clipPath id="ci"><rect x="238.2" y="141.6" width="89.10000000000002" height="66.4"/></clipPath>
<g clip-path="url(#ci)">
<polyline points="237.44,202.94 238.96,202.94 240.48,202.94 241.99,202.94 243.51,202.94 245.03,202.94 246.55,202.94 248.06,202.94 249.58,202.94 251.10,202.94 252.62,202.94 254.13,202.94 255.65,202.94 257.17,202.94 258.69,202.94 260.21,202.94 261.72,202.94 263.24,202.94 264.76,202.94 266.28,202.92 267.79,202.87 269.31,202.83 270.83,202.79 272.35,202.74 273.86,202.70 275.38,202.65 276.90,202.61 278.42,202.57 279.93,202.52 281.45,202.48 282.97,202.43 284.49,202.39 286.01,202.35 287.52,202.30 289.04,202.26 290.56,202.21 292.08,202.17 293.59,202.13 295.11,202.08 296.63,202.04 298.15,201.99 299.66,201.95 301.18,201.91 302.70,201.86 304.22,201.82 305.74,201.77 307.25,201.73 308.77,201.69 310.29,201.64 311.81,201.60 313.32,201.55 314.84,201.51 316.36,201.47 317.88,201.42 319.39,201.38 320.91,201.33 322.43,201.29 323.95,201.25 325.46,201.20 326.98,201.16 328.50,201.11" fill="none" stroke="#1a2a9a" stroke-width="1.8" stroke-linejoin="round"/>
<polyline points="237.44,203.65 238.96,203.65 240.48,203.65 241.99,203.65 243.51,203.65 245.03,203.65 246.55,203.65 248.06,203.65 249.58,203.65 251.10,203.65 252.62,203.65 254.13,203.65 255.65,203.65 257.17,203.65 258.69,203.65 260.21,203.65 261.72,203.65 263.24,203.65 264.76,203.65 266.28,203.65 267.79,203.65 269.31,203.65 270.83,203.65 272.35,203.65 273.86,203.64 275.38,203.60 276.90,203.56 278.42,203.52 279.93,203.48 281.45,203.43 282.97,203.39 284.49,203.35 286.01,203.31 287.52,203.27 289.04,203.23 290.56,203.19 292.08,203.15 293.59,203.11 295.11,203.07 296.63,203.03 298.15,202.99 299.66,202.95 301.18,202.91 302.70,202.87 304.22,202.83 305.74,202.79 307.25,202.75 308.77,202.71 310.29,202.67 311.81,202.63 313.32,202.59 314.84,202.55 316.36,202.51 317.88,202.47 319.39,202.43 320.91,202.39 322.43,202.34 323.95,202.30 325.46,202.26 326.98,202.22 328.50,202.18" fill="none" stroke="#111" stroke-width="1.3" stroke-linejoin="round"/>
<polyline points="237.44,204.00 238.96,204.00 240.48,204.00 241.99,204.00 243.51,204.00 245.03,204.00 246.55,204.00 248.06,204.00 249.58,204.00 251.10,204.00 252.62,204.00 254.13,204.00 255.65,204.00 257.17,204.00 258.69,204.00 260.21,204.00 261.72,204.00 263.24,203.99 264.76,203.98 266.28,203.96 267.79,203.92 269.31,203.85 270.83,203.75 272.35,203.62 273.86,203.46 275.38,203.28 276.90,203.08 278.42,202.85 279.93,202.60 281.45,202.33 282.97,202.03 284.49,201.72 286.01,201.38 287.52,201.02 289.04,200.64 290.56,200.24 292.08,199.82 293.59,199.38 295.11,198.92 296.63,198.45 298.15,197.95 299.66,197.43 301.18,196.90 302.70,196.34 304.22,195.77 305.74,195.18 307.25,194.57 308.77,193.94 310.29,193.30 311.81,192.63 313.32,191.95 314.84,191.25 316.36,190.54 317.88,189.80 319.39,189.05 320.91,188.29 322.43,187.50 323.95,186.70 325.46,185.88 326.98,185.05 328.50,184.19" fill="none" stroke="#22bb44" stroke-width="1.5" stroke-linejoin="round"/>
<polyline points="237.44,204.00 238.96,204.00 240.48,204.00 241.99,204.00 243.51,204.00 245.03,204.00 246.55,204.00 248.06,204.00 249.58,204.00 251.10,204.00 252.62,204.00 254.13,204.00 255.65,204.00 257.17,204.00 258.69,204.00 260.21,204.00 261.72,203.99 263.24,203.99 264.76,203.97 266.28,203.92 267.79,203.80 269.31,203.60 270.83,203.29 272.35,202.88 273.86,202.37 275.38,201.75 276.90,201.02 278.42,200.19 279.93,199.26 281.45,198.22 282.97,197.08 284.49,195.83 286.01,194.47 287.52,193.01 289.04,191.44 290.56,189.77 292.08,188.00 293.59,186.12 295.11,184.13 296.63,182.04 298.15,179.84 299.66,177.54 301.18,175.13 302.70,172.62 304.22,170.00 305.74,167.28 307.25,164.45 308.77,161.51 310.29,158.48 311.81,155.33 313.32,152.08 314.84,148.73 316.36,145.27 317.88,141.70 319.39,138.03 320.91,134.26 322.43,130.38 323.95,126.39 325.46,122.30 326.98,118.10 328.50,113.80" fill="none" stroke="#ee2222" stroke-width="1.5" stroke-linejoin="round"/>
<polyline points="237.44,204.00 238.96,204.00 240.48,204.00 241.99,204.00 243.51,204.00 245.03,204.00 246.55,204.00 248.06,204.00 249.58,204.00 251.10,204.00 252.62,204.00 254.13,204.00 255.65,204.00 257.17,204.00 258.69,204.00 260.21,204.00 261.72,204.00 263.24,204.00 264.76,204.00 266.28,204.00 267.79,204.00 269.31,204.00 270.83,203.99 272.35,203.99 273.86,203.97 275.38,203.93 276.90,203.82 278.42,203.62 279.93,203.31 281.45,202.89 282.97,202.36 284.49,201.72 286.01,200.96 287.52,200.09 289.04,199.11 290.56,198.01 292.08,196.80 293.59,195.47 295.11,194.04 296.63,192.49 298.15,190.82 299.66,189.04 301.18,187.15 302.70,185.15 304.22,183.03 305.74,180.80 307.25,178.45 308.77,175.99 310.29,173.42 311.81,170.73 313.32,167.93 314.84,165.02 316.36,162.00 317.88,158.86 319.39,155.60 320.91,152.24 322.43,148.76 323.95,145.16 325.46,141.46 326.98,137.64 328.50,133.70" fill="none" stroke="#22ddee" stroke-width="1.5" stroke-linejoin="round"/>
<line x1="238.20" y1="204.30" x2="280.00" y2="204.30" stroke="#22ddee" stroke-width="1.5" stroke-linecap="butt"/>
</g>
<line x1="238.20" y1="141.60" x2="238.20" y2="208.00" stroke="#111" stroke-width="1.1" stroke-linecap="butt"/>
<line x1="238.20" y1="208.00" x2="327.30" y2="208.00" stroke="#111" stroke-width="1.1" stroke-linecap="butt"/>
<line x1="250.00" y1="208.00" x2="250.00" y2="206.00" stroke="#111" stroke-width="0.8" stroke-linecap="butt"/>
<text x="250.00" y="215.40" font-size="7.4" fill="#222" stroke="#222" stroke-width="0.1" text-anchor="middle" font-weight="normal" style="">1.2</text>
<line x1="281.40" y1="208.00" x2="281.40" y2="206.00" stroke="#111" stroke-width="0.8" stroke-linecap="butt"/>
<text x="281.40" y="215.40" font-size="7.4" fill="#222" stroke="#222" stroke-width="0.1" text-anchor="middle" font-weight="normal" style="">1.4</text>
<line x1="312.80" y1="208.00" x2="312.80" y2="206.00" stroke="#111" stroke-width="0.8" stroke-linecap="butt"/>
<text x="312.80" y="215.40" font-size="7.4" fill="#222" stroke="#222" stroke-width="0.1" text-anchor="middle" font-weight="normal" style="">1.6</text>
<line x1="238.20" y1="204.00" x2="240.20" y2="204.00" stroke="#111" stroke-width="0.8" stroke-linecap="butt"/>
<text x="232.30" y="204.00" font-size="7.4" fill="#222" stroke="#222" stroke-width="0.1" text-anchor="middle" font-weight="normal" transform="rotate(-90 232.30 204.00)" style="">0</text>
<line x1="238.20" y1="186.25" x2="240.20" y2="186.25" stroke="#111" stroke-width="0.8" stroke-linecap="butt"/>
<text x="232.30" y="186.25" font-size="7.4" fill="#222" stroke="#222" stroke-width="0.1" text-anchor="middle" font-weight="normal" transform="rotate(-90 232.30 186.25)" style="">5</text>
<line x1="238.20" y1="168.50" x2="240.20" y2="168.50" stroke="#111" stroke-width="0.8" stroke-linecap="butt"/>
<text x="232.30" y="168.50" font-size="7.4" fill="#222" stroke="#222" stroke-width="0.1" text-anchor="middle" font-weight="normal" transform="rotate(-90 232.30 168.50)" style="">10</text>
<line x1="238.20" y1="150.75" x2="240.20" y2="150.75" stroke="#111" stroke-width="0.8" stroke-linecap="butt"/>
<text x="232.30" y="150.75" font-size="7.4" fill="#222" stroke="#222" stroke-width="0.1" text-anchor="middle" font-weight="normal" transform="rotate(-90 232.30 150.75)" style="">15</text>
<text x="222.60" y="173.00" font-size="7.4" fill="#222" stroke="#222" stroke-width="0.1" text-anchor="middle" font-weight="normal" transform="rotate(-90 222.60 173.00)" style="">J/mAcm<tspan dy="-2" font-size="4.5">-2</tspan></text>
<line x1="244.20" y1="148.20" x2="255.80" y2="148.20" stroke="#ee2222" stroke-width="1.6" stroke-linecap="butt"/>
<text x="258.70" y="151.00" font-size="7.6" fill="#222" stroke="#222" stroke-width="0.1" text-anchor="start" font-weight="normal" style="">N, P-GCNS</text>
<line x1="244.20" y1="159.00" x2="255.80" y2="159.00" stroke="#22bb44" stroke-width="1.6" stroke-linecap="butt"/>
<text x="258.70" y="161.90" font-size="7.6" fill="#222" stroke="#222" stroke-width="0.1" text-anchor="start" font-weight="normal" style="">N, P-CNS</text>
<line x1="244.20" y1="169.20" x2="255.80" y2="169.20" stroke="#2233bb" stroke-width="1.6" stroke-linecap="butt"/>
<text x="258.70" y="172.00" font-size="7.6" fill="#222" stroke="#222" stroke-width="0.1" text-anchor="start" font-weight="normal" style="">N-CNP</text>
<line x1="244.20" y1="180.80" x2="255.80" y2="180.80" stroke="#22ddee" stroke-width="1.6" stroke-linecap="butt"/>
<text x="258.70" y="182.30" font-size="7.6" fill="#222" stroke="#222" stroke-width="0.1" text-anchor="start" font-weight="normal" style="">RuO<tspan dy="1.5" font-size="5">2</tspan></text>
<line x1="244.20" y1="191.90" x2="255.80" y2="191.90" stroke="#111" stroke-width="1.6" stroke-linecap="butt"/>
<text x="258.70" y="194.00" font-size="7.6" fill="#222" stroke="#222" stroke-width="0.1" text-anchor="start" font-weight="normal" style="">Pt/C</text>
<rect x="399.00" y="145.00" width="147.00" height="108.50" stroke="#999" stroke-width="1.3" fill="none"/>
<line x1="399.00" y1="233.80" x2="509.50" y2="149.80" stroke="#222" stroke-width="1.0" stroke-linecap="butt"/>
<line x1="509.50" y1="149.80" x2="546.00" y2="197.50" stroke="#222" stroke-width="1.0" stroke-linecap="butt"/>
<rect x="406.50" y="198.80" width="3.6" height="3.6" fill="#ee2222"/>
<rect x="419.00" y="206.00" width="3.6" height="3.6" fill="#ee2222"/>
<rect x="410.90" y="214.80" width="3.6" height="3.6" fill="#ee2222"/>
<rect x="422.30" y="194.40" width="3.6" height="3.6" fill="#ee2222"/>
<rect x="424.50" y="192.80" width="3.6" height="3.6" fill="#ee2222"/>
<rect x="431.10" y="190.00" width="3.6" height="3.6" fill="#ee2222"/>
<rect x="426.70" y="202.10" width="3.6" height="3.6" fill="#ee2222"/>
<rect x="427.80" y="206.40" width="3.6" height="3.6" fill="#ee2222"/>
<rect x="437.70" y="196.60" width="3.6" height="3.6" fill="#ee2222"/>
<rect x="442.10" y="198.80" width="3.6" height="3.6" fill="#ee2222"/>
<rect x="443.20" y="202.10" width="3.6" height="3.6" fill="#ee2222"/>
<rect x="450.80" y="203.20" width="3.6" height="3.6" fill="#ee2222"/>
<rect x="451.90" y="204.20" width="3.6" height="3.6" fill="#ee2222"/>
<rect x="457.40" y="196.60" width="3.6" height="3.6" fill="#ee2222"/>
<rect x="459.60" y="182.30" width="3.6" height="3.6" fill="#ee2222"/>
<rect x="461.80" y="181.20" width="3.6" height="3.6" fill="#ee2222"/>
<rect x="465.10" y="190.00" width="3.6" height="3.6" fill="#ee2222"/>
<rect x="466.20" y="183.40" width="3.6" height="3.6" fill="#ee2222"/>
<rect x="477.20" y="192.20" width="3.6" height="3.6" fill="#ee2222"/>
<rect x="405.00" y="224.30" width="3.6" height="3.6" fill="#ee2222"/>
<rect x="408.30" y="220.60" width="3.6" height="3.6" fill="#ee2222"/>
<rect x="411.10" y="216.20" width="3.6" height="3.6" fill="#ee2222"/>
<rect x="413.30" y="214.00" width="3.6" height="3.6" fill="#ee2222"/>
<rect x="418.10" y="205.90" width="3.6" height="3.6" fill="#ee2222"/>
<rect x="423.60" y="194.30" width="3.6" height="3.6" fill="#ee2222"/>
<rect x="424.70" y="202.00" width="3.6" height="3.6" fill="#ee2222"/>
<rect x="428.70" y="206.80" width="3.6" height="3.6" fill="#ee2222"/>
<rect x="439.00" y="203.10" width="3.6" height="3.6" fill="#ee2222"/>
<rect x="435.70" y="195.80" width="3.6" height="3.6" fill="#ee2222"/>
<rect x="493.50" y="167.70" width="3.6" height="3.6" fill="#ee2222"/>
<rect x="488.70" y="181.50" width="3.6" height="3.6" fill="#ee2222"/>
<rect x="491.30" y="185.20" width="3.6" height="3.6" fill="#ee2222"/>
<rect x="478.20" y="192.90" width="3.6" height="3.6" fill="#ee2222"/>
<rect x="507.70" y="146.70" width="3.6" height="3.6" fill="#ee2222"/>
<rect x="472.20" y="166.20" width="3.6" height="3.6" fill="#ee2222"/>
<rect x="484.20" y="161.20" width="3.6" height="3.6" fill="#ee2222"/>
<rect x="490.20" y="158.20" width="3.6" height="3.6" fill="#ee2222"/>
<rect x="498.20" y="154.20" width="3.6" height="3.6" fill="#ee2222"/>
<rect x="502.20" y="151.20" width="3.6" height="3.6" fill="#ee2222"/>
<rect x="469.00" y="165.90" width="3.6" height="3.6" fill="#ee2222"/>
<rect x="480.20" y="166.20" width="3.6" height="3.6" fill="#ee2222"/>
<rect x="495.20" y="156.20" width="3.6" height="3.6" fill="#ee2222"/>
<polygon points="400.00,184.10 402.20,187.95 397.80,187.95" fill="#2a2a99"/>
<polygon points="430.70,198.40 432.90,202.25 428.50,202.25" fill="#2a2a99"/>
<polygon points="442.80,197.30 445.00,201.15 440.60,201.15" fill="#2a2a99"/>
<polygon points="447.10,196.80 449.30,200.65 444.90,200.65" fill="#2a2a99"/>
<polygon points="460.30,191.80 462.50,195.65 458.10,195.65" fill="#2a2a99"/>
<polygon points="462.50,180.80 464.70,184.65 460.30,184.65" fill="#2a2a99"/>
<polygon points="421.90,210.40 424.10,214.25 419.70,214.25" fill="#2a2a99"/>
<polygon points="427.40,207.10 429.60,210.95 425.20,210.95" fill="#2a2a99"/>
<polygon points="402.40,234.50 404.60,238.35 400.20,238.35" fill="#2a2a99"/>
<polygon points="415.50,231.80 417.70,235.65 413.30,235.65" fill="#2a2a99"/>
<polygon points="418.80,229.00 421.00,232.85 416.60,232.85" fill="#2a2a99"/>
<polygon points="419.50,226.10 421.70,229.95 417.30,229.95" fill="#2a2a99"/>
<polygon points="423.20,226.10 425.40,229.95 421.00,229.95" fill="#2a2a99"/>
<polygon points="426.50,223.50 428.70,227.35 424.30,227.35" fill="#2a2a99"/>
<polygon points="424.80,218.00 427.00,221.85 422.60,221.85" fill="#2a2a99"/>
<polygon points="421.70,209.90 423.90,213.75 419.50,213.75" fill="#2a2a99"/>
<polygon points="427.00,207.70 429.20,211.55 424.80,211.55" fill="#2a2a99"/>
<polygon points="417.70,216.50 419.90,220.35 415.50,220.35" fill="#2a2a99"/>
<polygon points="428.70,199.40 430.90,203.25 426.50,203.25" fill="#2a2a99"/>
<polygon points="448.40,195.40 450.60,199.25 446.20,199.25" fill="#2a2a99"/>
<polygon points="461.60,192.80 463.80,196.65 459.40,196.65" fill="#2a2a99"/>
<polygon points="497.50,153.10 499.70,156.95 495.30,156.95" fill="#2a2a99"/>
<polygon points="511.70,152.00 513.90,155.85 509.50,155.85" fill="#2a2a99"/>
<polygon points="485.50,167.30 487.70,171.15 483.30,171.15" fill="#2a2a99"/>
<polygon points="481.10,176.80 483.30,180.65 478.90,180.65" fill="#2a2a99"/>
<polygon points="500.80,179.40 503.00,183.25 498.60,183.25" fill="#2a2a99"/>
<polygon points="510.60,177.60 512.80,181.45 508.40,181.45" fill="#2a2a99"/>
<polygon points="488.80,184.20 491.00,188.05 486.60,188.05" fill="#2a2a99"/>
<circle cx="439.50" cy="181.30" r="1.9" fill="#33aa22"/>
<circle cx="458.10" cy="177.10" r="1.9" fill="#33aa22"/>
<circle cx="455.90" cy="185.90" r="1.9" fill="#33aa22"/>
<circle cx="470.60" cy="167.70" r="1.9" fill="#33aa22"/>
<circle cx="471.30" cy="177.10" r="1.9" fill="#33aa22"/>
<circle cx="479.00" cy="162.60" r="1.9" fill="#33aa22"/>
<circle cx="439.00" cy="201.70" r="1.9" fill="#33aa22"/>
<circle cx="465.80" cy="181.90" r="1.9" fill="#33aa22"/>
<circle cx="438.60" cy="202.70" r="1.9" fill="#33aa22"/>
<circle cx="484.40" cy="166.30" r="1.9" fill="#33aa22"/>
<circle cx="488.00" cy="163.50" r="1.9" fill="#33aa22"/>
<circle cx="491.00" cy="161.50" r="1.9" fill="#33aa22"/>
<circle cx="494.00" cy="159.50" r="1.9" fill="#33aa22"/>
<circle cx="497.00" cy="157.50" r="1.9" fill="#33aa22"/>
<circle cx="500.00" cy="155.50" r="1.9" fill="#33aa22"/>
<circle cx="503.00" cy="153.50" r="1.9" fill="#33aa22"/>
<circle cx="506.00" cy="151.50" r="1.9" fill="#33aa22"/>
<circle cx="486.00" cy="165.00" r="1.9" fill="#33aa22"/>
<circle cx="489.50" cy="162.00" r="1.9" fill="#33aa22"/>
<rect x="505.60" y="148.00" width="3.6" height="3.6" fill="#66bbbb"/>
<line x1="399.00" y1="253.50" x2="399.00" y2="255.50" stroke="#888" stroke-width="0.9" stroke-linecap="butt"/>
<text x="399.00" y="262.30" font-size="7.4" fill="#222" stroke="#222" stroke-width="0.1" text-anchor="middle" font-weight="normal" style="">0</text>
<line x1="433.90" y1="253.50" x2="433.90" y2="255.50" stroke="#888" stroke-width="0.9" stroke-linecap="butt"/>
<text x="433.90" y="262.30" font-size="7.4" fill="#222" stroke="#222" stroke-width="0.1" text-anchor="middle" font-weight="normal" style="">0.5</text>
<line x1="468.80" y1="253.50" x2="468.80" y2="255.50" stroke="#888" stroke-width="0.9" stroke-linecap="butt"/>
<text x="468.80" y="262.30" font-size="7.4" fill="#222" stroke="#222" stroke-width="0.1" text-anchor="middle" font-weight="normal" style="">1.0</text>
<line x1="503.70" y1="253.50" x2="503.70" y2="255.50" stroke="#888" stroke-width="0.9" stroke-linecap="butt"/>
<text x="503.70" y="262.30" font-size="7.4" fill="#222" stroke="#222" stroke-width="0.1" text-anchor="middle" font-weight="normal" style="">1.5</text>
<line x1="538.60" y1="253.50" x2="538.60" y2="255.50" stroke="#888" stroke-width="0.9" stroke-linecap="butt"/>
<text x="538.60" y="262.30" font-size="7.4" fill="#222" stroke="#222" stroke-width="0.1" text-anchor="middle" font-weight="normal" style="">2.0</text>
<line x1="397.00" y1="153.70" x2="399.00" y2="153.70" stroke="#888" stroke-width="0.9" stroke-linecap="butt"/>
<text x="393.60" y="152.50" font-size="7.4" fill="#222" stroke="#222" stroke-width="0.1" text-anchor="middle" font-weight="normal" transform="rotate(-90 393.60 152.50)" style="">-0.5</text>
<line x1="397.00" y1="178.70" x2="399.00" y2="178.70" stroke="#888" stroke-width="0.9" stroke-linecap="butt"/>
<text x="393.60" y="177.50" font-size="7.4" fill="#222" stroke="#222" stroke-width="0.1" text-anchor="middle" font-weight="normal" transform="rotate(-90 393.60 177.50)" style="">-1.0</text>
<line x1="397.00" y1="203.70" x2="399.00" y2="203.70" stroke="#888" stroke-width="0.9" stroke-linecap="butt"/>
<text x="393.60" y="204.00" font-size="7.4" fill="#222" stroke="#222" stroke-width="0.1" text-anchor="middle" font-weight="normal" transform="rotate(-90 393.60 204.00)" style="">-1.5</text>
<line x1="397.00" y1="228.70" x2="399.00" y2="228.70" stroke="#888" stroke-width="0.9" stroke-linecap="butt"/>
<text x="393.60" y="229.00" font-size="7.4" fill="#222" stroke="#222" stroke-width="0.1" text-anchor="middle" font-weight="normal" transform="rotate(-90 393.60 229.00)" style="">-2.0</text>
<line x1="397.00" y1="253.70" x2="399.00" y2="253.70" stroke="#888" stroke-width="0.9" stroke-linecap="butt"/>
<text x="393.60" y="252.00" font-size="7.4" fill="#222" stroke="#222" stroke-width="0.1" text-anchor="middle" font-weight="normal" transform="rotate(-90 393.60 252.00)" style="">-2.5</text>
<line x1="397.70" y1="166.20" x2="399.00" y2="166.20" stroke="#888" stroke-width="0.9" stroke-linecap="butt"/>
<line x1="397.70" y1="191.20" x2="399.00" y2="191.20" stroke="#888" stroke-width="0.9" stroke-linecap="butt"/>
<line x1="397.70" y1="216.20" x2="399.00" y2="216.20" stroke="#888" stroke-width="0.9" stroke-linecap="butt"/>
<line x1="397.70" y1="241.20" x2="399.00" y2="241.20" stroke="#888" stroke-width="0.9" stroke-linecap="butt"/>
<text x="474.00" y="270.50" font-size="7.4" fill="#222" stroke="#222" stroke-width="0.1" text-anchor="middle" font-weight="normal" style="">Difference Between ΔG for O<tspan dy="-2.5" font-size="4.8">*</tspan><tspan dy="2.5"> and OH</tspan><tspan dy="-2.5" font-size="4.8">*</tspan></text>
<text x="380.60" y="203.00" font-size="7.4" fill="#222" stroke="#222" stroke-width="0.1" text-anchor="middle" font-weight="normal" transform="rotate(-90 380.60 203.00)" style="">-η<tspan dy="-2.5" font-size="5">OER</tspan><tspan dy="2.5"> (V)</tspan></text>
<text x="375.50" y="140.40" font-size="9" fill="#111" text-anchor="start" font-weight="bold" style="">(f)</text>
<rect x="406.00" y="149.20" width="3.6" height="3.6" fill="#ee2222"/>
<polygon points="407.80,156.50 410.00,160.35 405.60,160.35" fill="#2a2a99"/>
<circle cx="407.80" cy="167.00" r="1.9" fill="#33aa22"/>
<rect x="406.0" y="172.89999999999998" width="3.6" height="3.6" fill="#99cccc" stroke="#55aaaa" stroke-width="0.6"/>
<text x="411.80" y="153.90" font-size="7.4" fill="#222" stroke="#222" stroke-width="0.1" text-anchor="start" font-weight="normal" style="">N, P coupled</text>
<text x="411.80" y="160.90" font-size="7.4" fill="#222" stroke="#222" stroke-width="0.1" text-anchor="start" font-weight="normal" style="">P Doped</text>
<text x="411.80" y="169.60" font-size="7.4" fill="#222" stroke="#222" stroke-width="0.1" text-anchor="start" font-weight="normal" style="">N Doped</text>
<text x="411.80" y="177.70" font-size="7.4" fill="#222" stroke="#222" stroke-width="0.1" text-anchor="start" font-weight="normal" style="">RuO<tspan dy="1.5" font-size="5">2</tspan></text>
<rect x="475.7" y="200.2" width="67.69999999999999" height="41.10000000000002" fill="#fff" stroke="#888" stroke-width="1.0"/>
<line x1="475.70" y1="234.20" x2="512.50" y2="208.80" stroke="#222" stroke-width="1.0" stroke-linecap="butt"/>
<line x1="512.50" y1="208.80" x2="541.50" y2="241.30" stroke="#222" stroke-width="1.0" stroke-linecap="butt"/>
<rect x="510.80" y="205.50" width="3.4" height="3.4" fill="#ee2222"/>
<polygon points="512.50,206.90 514.60,210.57 510.40,210.57" fill="#2a2a99"/>
<rect x="506.10" y="211.10" width="3.4" height="3.4" fill="#ee2222"/>
<rect x="500.8" y="209.9" width="3.4" height="3.4" fill="#99cccc" stroke="#55aaaa" stroke-width="0.6"/>
<rect x="491.40" y="223.80" width="3.2" height="3.2" fill="#ee2222"/>
<polygon points="493.00,223.60 495.00,227.10 491.00,227.10" fill="#2a2a99"/>
<rect x="480.10" y="229.60" width="3.0" height="3.0" fill="#ee2222"/>
<polygon points="481.60,229.30 483.60,232.80 479.60,232.80" fill="#2a2a99"/>
<polygon points="477.20,229.10 479.20,232.60 475.20,232.60" fill="#6a3a99"/>
<circle cx="477.20" cy="236.60" r="1.8" fill="#33aa22"/>
<circle cx="517.70" cy="224.00" r="1.9" fill="#33aa22"/>
<text x="480.40" y="206.90" font-size="7.4" fill="#222" stroke="#222" stroke-width="0.1" text-anchor="start" font-weight="normal" style="">RuO<tspan dy="1.5" font-size="5">2</tspan></text>
<text x="493.00" y="248.60" font-size="7.4" fill="#222" stroke="#222" stroke-width="0.1" text-anchor="middle" font-weight="normal" style="">150</text>
<line x1="493.00" y1="241.30" x2="493.00" y2="239.80" stroke="#555" stroke-width="0.8" stroke-linecap="butt"/>
<text x="532.00" y="248.60" font-size="7.4" fill="#222" stroke="#222" stroke-width="0.1" text-anchor="middle" font-weight="normal" style="">165</text>
<line x1="532.00" y1="241.30" x2="532.00" y2="239.80" stroke="#555" stroke-width="0.8" stroke-linecap="butt"/>
<text x="471.20" y="209.30" font-size="7.4" fill="#222" stroke="#222" stroke-width="0.1" text-anchor="middle" font-weight="normal" transform="rotate(-90 471.20 209.30)" style="">-0.4</text>
<text x="471.20" y="224.70" font-size="7.4" fill="#222" stroke="#222" stroke-width="0.1" text-anchor="middle" font-weight="normal" transform="rotate(-90 471.20 224.70)" style="">-0.5</text>
<text x="471.20" y="240.60" font-size="7.4" fill="#222" stroke="#222" stroke-width="0.1" text-anchor="middle" font-weight="normal" transform="rotate(-90 471.20 240.60)" style="">-0.6</text>
</svg></body></html>
